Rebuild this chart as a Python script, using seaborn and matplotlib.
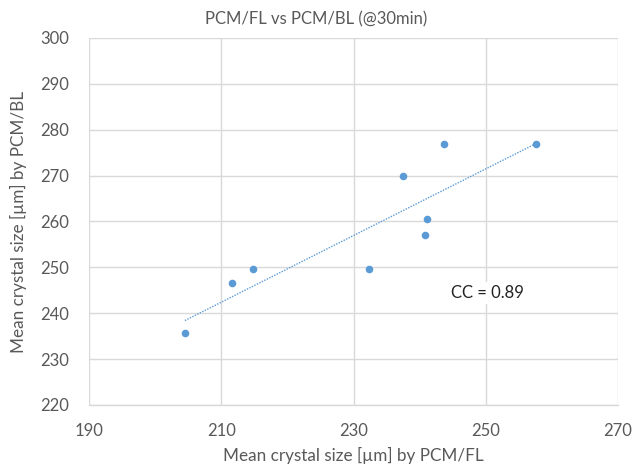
import numpy as np
import pandas as pd
import matplotlib
matplotlib.use("Agg")
import matplotlib.pyplot as plt
import seaborn as sns

fl_size = [204.5, 211.7, 214.8, 232.4, 237.5, 240.8, 241.1, 243.7, 257.6]
bl_size = [235.6, 246.5, 249.6, 249.6, 269.9, 257.1, 260.6, 276.9, 276.9]
x_ticks = [190, 210, 230, 250, 270]
y_ticks = [220, 230, 240, 250, 260, 270, 280, 290, 300]
cc_text = "CC = 0.89"

df = pd.DataFrame({"fl": fl_size, "bl": bl_size})

sns.set_theme(style="white")
plt.rcParams['font.family'] = ['Lato', 'DejaVu Sans']

grey = "#595959"
blue = "#5B9BD5"

fig = plt.figure(figsize=(6.33, 4.65), dpi=100)
ax = fig.add_axes([89/633, 1-405/465, (618-89)/633, (405-38)/465])

sns.scatterplot(data=df, x="fl", y="bl", ax=ax, color=blue, s=30,
                edgecolor=blue, linewidth=0, zorder=3)

coef = np.polyfit(df["fl"], df["bl"], 1)
xs = np.array([df["fl"].min(), df["fl"].max()])
ax.plot(xs, np.polyval(coef, xs), linestyle=(0, (1, 1)), color=blue,
        linewidth=1.0, zorder=2)

ax.set_xlim(190, 270)
ax.set_ylim(220, 300)
ax.set_xticks(x_ticks)
ax.set_yticks(y_ticks)
ax.grid(True, color="#d9d9d9", linewidth=1.0)
ax.set_axisbelow(True)
for s in ["top", "right", "left"]:
    ax.spines[s].set_visible(False)
ax.spines["bottom"].set_color("#d9d9d9")
ax.spines["bottom"].set_linewidth(1.0)
ax.tick_params(axis="both", length=0, labelsize=12, colors=grey)
ax.tick_params(axis="x", pad=13)
ax.tick_params(axis="y", pad=14)

ax.set_xlabel("Mean crystal size [µm] by PCM/FL", fontsize=12.3, color=grey, labelpad=6)
ax.set_ylabel("Mean crystal size [µm] by PCM/BL", fontsize=12.3, color=grey, labelpad=10)

ax.text(244.7, 244.4, cc_text, fontsize=12, color="#222222", va="center", ha="left",
        bbox=dict(facecolor="white", edgecolor="none", pad=2))

fig.text(0.5, 1-19/465, "PCM/FL vs PCM/BL (@30min)", ha="center", va="center",
         fontsize=12, color=grey)

fig.savefig("out.png", dpi=100)
